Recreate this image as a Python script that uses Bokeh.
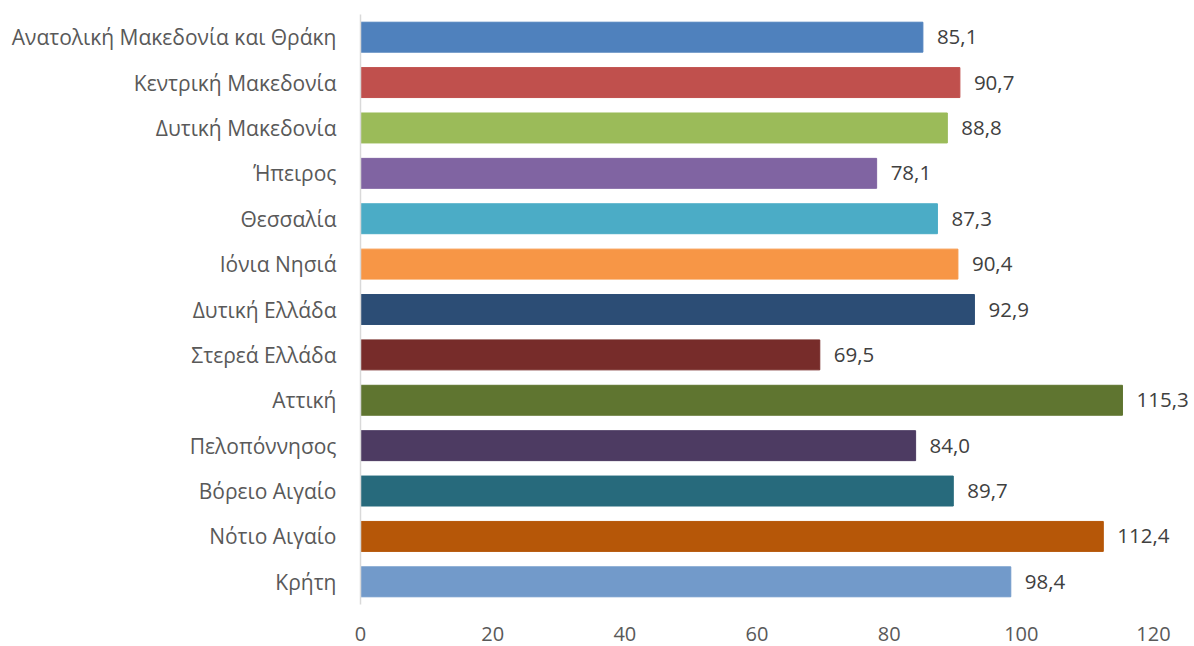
from bokeh.plotting import figure
from bokeh.models import ColumnDataSource, FactorRange, Range1d, FixedTicker
from bokeh.core.properties import value
from bokeh.embed import file_html
from bokeh.resources import INLINE

regions = ["Ανατολική Μακεδονία και Θράκη", "Κεντρική Μακεδονία", "Δυτική Μακεδονία",
           "Ήπειρος", "Θεσσαλία", "Ιόνια Νησιά", "Δυτική Ελλάδα", "Στερεά Ελλάδα",
           "Αττική", "Πελοπόννησος", "Βόρειο Αιγαίο", "Νότιο Αιγαίο", "Κρήτη"]
values = [85.1, 90.7, 88.8, 78.1, 87.3, 90.4, 92.9, 69.5, 115.3, 84.0, 89.7, 112.4, 98.4]
colors = ["#4F81BD", "#C0504D", "#9BBB59", "#8064A2", "#4BACC6", "#F79646", "#2C4D75",
          "#772C2A", "#5F7530", "#4D3B62", "#276A7C", "#B65708", "#729ACA"]
x_ticks = [0, 20, 40, 60, 80, 100, 120]

labels = [f"{v:.1f}".replace(".", ",") for v in values]
src = ColumnDataSource(dict(region=regions, val=values, color=colors, label=labels))

FONT = "Open Sans"
# frame: 360..1194 px wide, 0..120 spans 360..1153
p = figure(y_range=FactorRange(*reversed(regions)), x_range=Range1d(0, 126.2),
           output_backend="svg", toolbar_location=None,
           frame_width=834, frame_height=590, min_border_left=360,
           min_border_right=0, min_border_top=14, min_border_bottom=42)
p.outline_line_color = None
p.grid.visible = False
p.background_fill_color = "white"
p.border_fill_color = "white"

p.hbar(y="region", right="val", left=0, height=0.66, color="color", source=src)
p.text(x="val", y="region", text="label", source=src, x_offset=14,
       text_baseline="middle", text_align="left", text_color="#404040",
       text_font=value(FONT), text_font_size="20.5px")

p.xaxis.ticker = FixedTicker(ticks=x_ticks)
p.xaxis.axis_line_color = None
p.xaxis.major_tick_line_color = None
p.xaxis.minor_tick_line_color = None
p.xaxis.major_label_standoff = 16
p.xaxis.major_label_text_font = FONT
p.xaxis.major_label_text_font_size = "20px"
p.xaxis.major_label_text_color = "#595959"

p.yaxis.axis_line_color = "#D9D9D9"
p.yaxis.axis_line_width = 1.5
p.yaxis.major_tick_line_color = None
p.yaxis.minor_tick_line_color = None
p.yaxis.major_label_standoff = 18
p.yaxis.major_label_text_font = FONT
p.yaxis.major_label_text_font_size = "21px"
p.yaxis.major_label_text_color = "#595959"

open("out.html", "w").write(file_html(p, INLINE))
